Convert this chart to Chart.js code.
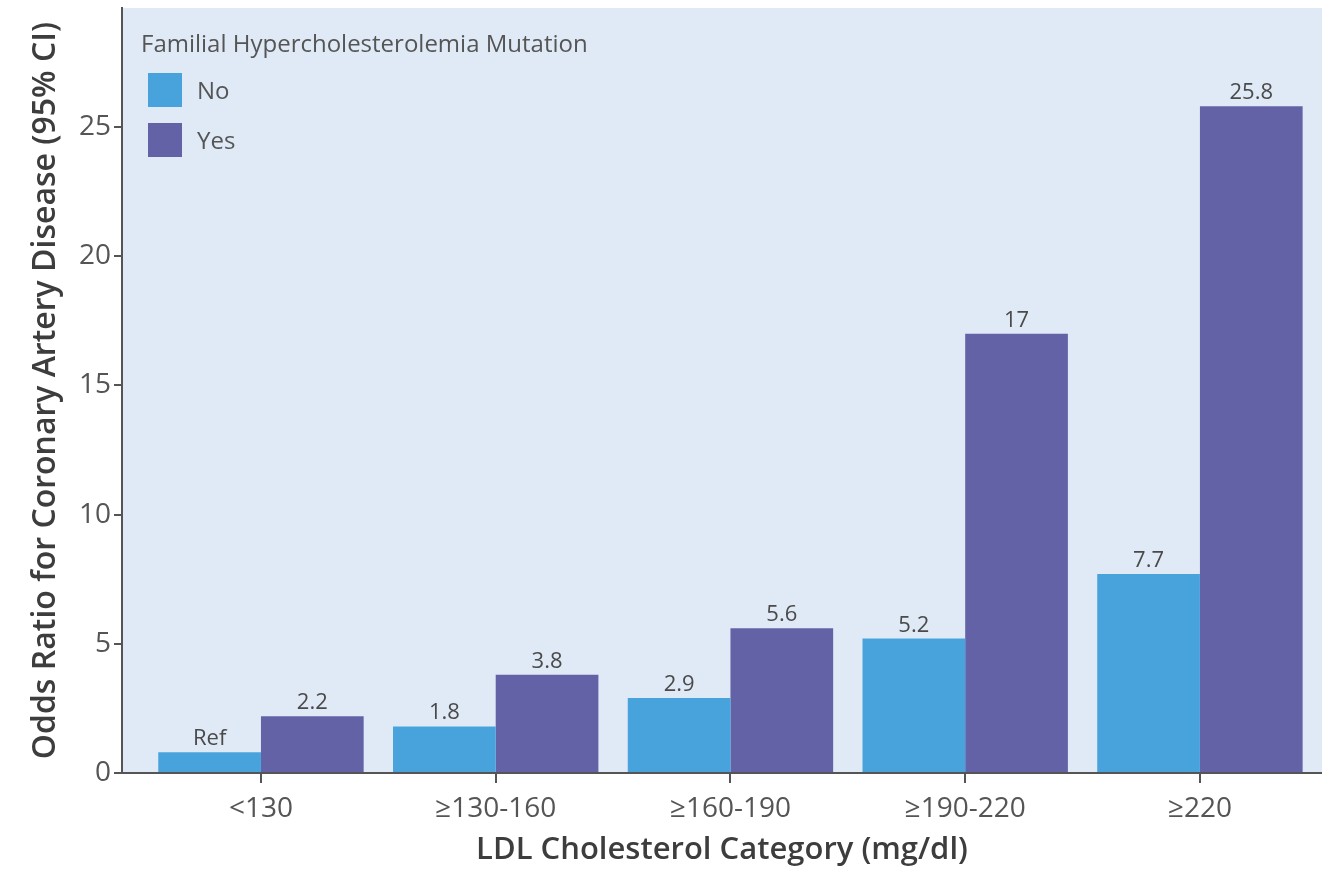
<!DOCTYPE html>
<html>
<head>
<meta charset="utf-8">
<script src="https://cdn.jsdelivr.net/npm/chart.js@4.4.1/dist/chart.umd.min.js"></script>
<style>
  html, body { margin: 0; padding: 0; background: #ffffff; overflow: hidden; }
  #wrap { position: relative; width: 1322px; height: 877px; }
  canvas { display: block; }
  #legend { position: absolute; left: 0; top: 0; font-family: "Open Sans", sans-serif; color: #555555; }
  #legend .title { position: absolute; left: 141px; top: 31px; font-size: 24px; line-height: 24px; white-space: nowrap; }
  #legend .item { position: absolute; left: 148px; height: 34px; display: flex; align-items: center; white-space: nowrap; }
  #legend .box { width: 34px; height: 34px; margin-right: 15px; }
  #legend .lbl { font-size: 24px; line-height: 34px; }
</style>
</head>
<body>
<div id="wrap">
  <canvas id="chart" width="1322" height="877"></canvas>
  <div id="legend"></div>
</div>
<script>
// ---- data ----
const categories = ["<130", "≥130-160", "≥160-190", "≥190-220", "≥220"];
const seriesNames = ["No", "Yes"];
const noValues = [0.8, 1.8, 2.9, 5.2, 7.7];
const yesValues = [2.2, 3.8, 5.6, 17, 25.8];
const noLabels = ["Ref", "1.8", "2.9", "5.2", "7.7"];
const yesLabels = ["2.2", "3.8", "5.6", "17", "25.8"];
const yTickValues = [0, 5, 10, 15, 20, 25];
const legendTitle = "Familial Hypercholesterolemia Mutation";
const xTitle = "LDL Cholesterol Category (mg/dl)";
const yTitle = "Odds Ratio for Coronary Artery Disease (95% CI)";

// ---- style ----
const colNo = "#48a3dc";
const colYes = "#6362a6";
const plotBg = "#e0eaf6";
const axisCol = "#555555";
const font = "'Open Sans', sans-serif";

const toPoints = vals => vals.map((v, i) => ({ x: i, y: v }));

const bgPlugin = {
  id: "plotBg",
  beforeDraw(chart) {
    const { ctx, chartArea: a } = chart;
    ctx.save();
    ctx.fillStyle = plotBg;
    ctx.fillRect(a.left, a.top, a.right - a.left, a.bottom - a.top);
    ctx.restore();
  }
};

const valueLabelPlugin = {
  id: "valueLabels",
  afterDatasetsDraw(chart) {
    const ctx = chart.ctx;
    ctx.save();
    ctx.font = "22px " + font;
    ctx.fillStyle = "#4a4a4a";
    ctx.textAlign = "center";
    ctx.textBaseline = "alphabetic";
    chart.data.datasets.forEach((ds, di) => {
      const meta = chart.getDatasetMeta(di);
      meta.data.forEach((bar, i) => {
        ctx.fillText(ds.valueLabels[i], bar.x, bar.y - 7);
      });
    });
    ctx.restore();
  }
};

const chart = new Chart(document.getElementById("chart"), {
  type: "bar",
  data: {
    datasets: [
      { label: seriesNames[0], data: toPoints(noValues), valueLabels: noLabels, backgroundColor: colNo, borderWidth: 0 },
      { label: seriesNames[1], data: toPoints(yesValues), valueLabels: yesLabels, backgroundColor: colYes, borderWidth: 0 }
    ]
  },
  options: {
    responsive: false,
    animation: false,
    devicePixelRatio: 1,
    layout: { padding: { top: 8, left: 0, right: 0, bottom: 0 } },
    datasets: { bar: { categoryPercentage: 0.875, barPercentage: 1.0 } },
    plugins: { legend: { display: false }, tooltip: { enabled: false } },
    scales: {
      x: {
        type: "linear",
        min: -0.592,
        max: 4.52,
        offset: false,
        grid: { display: true, drawOnChartArea: false, drawTicks: true, tickLength: 10, color: axisCol, lineWidth: 2, offset: false },
        border: { display: true, color: axisCol, width: 2, z: 1 },
        ticks: {
          autoSkip: false, maxRotation: 0, minRotation: 0, padding: 9,
          color: "#555555", font: { family: font, size: 28 },
          callback: v => categories[v] !== undefined ? categories[v] : ""
        },
        afterBuildTicks: s => { s.ticks = categories.map((c, i) => ({ value: i })); },
        title: { display: true, text: xTitle, color: "#3d3d3d", font: { family: font, size: 31, weight: 600 }, padding: { top: 0, bottom: 8 } },
        afterFit: s => { s.height = 104; s.paddingLeft = 0; s.paddingRight = 0; }
      },
      y: {
        min: 0,
        max: 29.6,
        grid: { display: true, drawOnChartArea: false, drawTicks: true, tickLength: 8, color: axisCol, lineWidth: 2 },
        border: { display: true, color: axisCol, width: 2, z: 1 },
        ticks: { padding: 3, color: "#555555", font: { family: font, size: 28 } },
        afterBuildTicks: s => { s.ticks = yTickValues.map(v => ({ value: v })); },
        title: { display: true, text: yTitle, color: "#3d3d3d", font: { family: font, size: 32, weight: 600 }, padding: { top: 27, bottom: 0 } },
        afterFit: s => { s.width = 122; s.paddingTop = 0; s.paddingBottom = 0; }
      }
    }
  },
  plugins: [bgPlugin, valueLabelPlugin]
});

// ---- HTML legend built from the datasets ----
const legend = document.getElementById("legend");
const t = document.createElement("div");
t.className = "title";
t.textContent = legendTitle;
legend.appendChild(t);
chart.data.datasets.forEach((ds, i) => {
  const row = document.createElement("div");
  row.className = "item";
  row.style.top = (73 + i * 50) + "px";
  const b = document.createElement("div");
  b.className = "box";
  b.style.background = ds.backgroundColor;
  const l = document.createElement("span");
  l.className = "lbl";
  l.textContent = ds.label;
  row.appendChild(b);
  row.appendChild(l);
  legend.appendChild(row);
});
</script>
</body>
</html>
